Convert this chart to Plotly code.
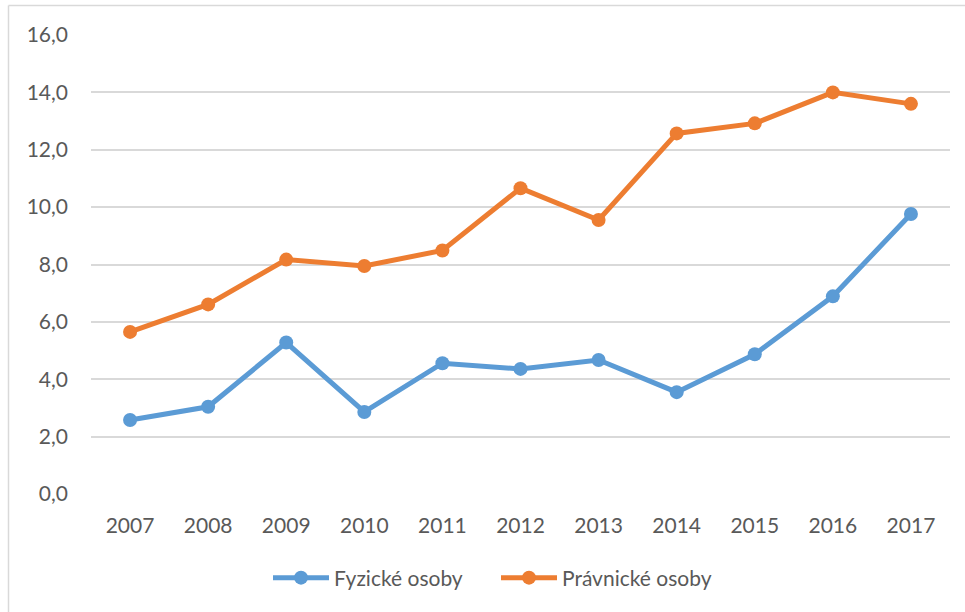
import plotly.graph_objects as go

years = ["2007", "2008", "2009", "2010", "2011", "2012", "2013", "2014", "2015", "2016", "2017"]
fyzicke = [2.58, 3.04, 5.28, 2.86, 4.56, 4.36, 4.67, 3.55, 4.87, 6.89, 9.76]
pravnicke = [5.65, 6.61, 8.17, 7.95, 8.49, 10.66, 9.55, 12.57, 12.92, 14.0, 13.6]
y_ticks = [0, 2, 4, 6, 8, 10, 12, 14, 16]

BLUE = "#5B9BD5"
ORANGE = "#ED7D31"
GRID = "#D9D9D9"
TXT = "#595959"
FONT = "Lato, 'Open Sans', sans-serif"

fig = go.Figure()
fig.add_trace(go.Scatter(x=years, y=fyzicke, name="Fyzické osoby", mode="lines+markers",
                         line=dict(color=BLUE, width=5), marker=dict(color=BLUE, size=14)))
fig.add_trace(go.Scatter(x=years, y=pravnicke, name="Právnické osoby", mode="lines+markers",
                         line=dict(color=ORANGE, width=5), marker=dict(color=ORANGE, size=14)))

W, H = 965, 612
L, R, T, B = 91, 15, 35, 118
pw, ph = W - L - R, H - T - B

def px(xp):
    return (xp - L) / pw

def py(yp):
    return (H - B - yp) / ph

fig.update_layout(
    width=W, height=H,
    margin=dict(l=L, r=R, t=T, b=B),
    paper_bgcolor="white", plot_bgcolor="white",
    separators=", ",
    font=dict(family=FONT, size=21, color=TXT),
    showlegend=True,
    legend=dict(orientation="h", x=px(268), xanchor="left", y=py(578), yanchor="middle",
                font=dict(family=FONT, size=21, color=TXT),
                itemwidth=56, entrywidth=157, entrywidthmode="pixels",
                traceorder="normal"),
    xaxis=dict(type="category", showgrid=False, showline=False, zeroline=False,
               ticks="", ticklabelstandoff=17, tickfont=dict(size=21, color=TXT),
               range=[-0.5, len(years) - 0.5]),
    yaxis=dict(range=[0, 16], tickvals=y_ticks, tickformat=".1f", showgrid=True,
               gridcolor=GRID, gridwidth=1.5, zeroline=False, showline=False,
               ticks="", ticklabelstandoff=22, tickfont=dict(size=21, color=TXT)),
    shapes=[
        dict(type="line", xref="paper", yref="paper", x0=px(8.5), x1=px(8.5),
             y0=py(H + 5), y1=py(5.5), line=dict(color=GRID, width=1.5)),
        dict(type="line", xref="paper", yref="paper", x0=px(8.5), x1=px(W + 5),
             y0=py(5.5), y1=py(5.5), line=dict(color=GRID, width=1.5)),
    ],
)

fig.write_html("out.html", config={"displayModeBar": False},
               post_script="document.body.style.margin='0';document.body.style.overflow='hidden';")
